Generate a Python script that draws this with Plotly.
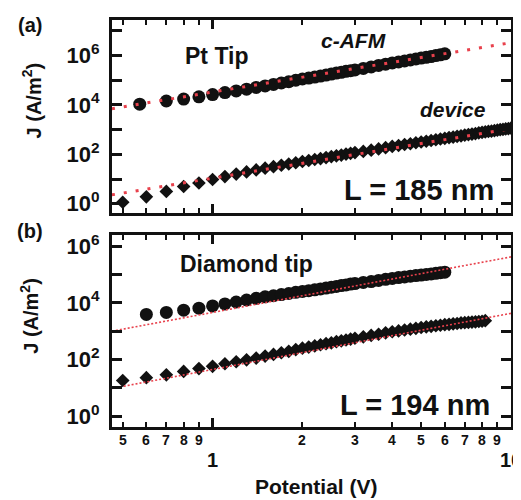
import math
import plotly.graph_objects as go

# ---------------- data ----------------
# Panel (a): Pt tip
v_cafm_a = [0.57, 0.7, 0.8, 0.9, 1.0, 1.1, 1.2, 1.3, 1.4, 1.5, 1.6, 1.7, 1.8, 1.9, 2.0,
            2.1, 2.2, 2.3, 2.4, 2.5, 2.6, 2.7, 2.8, 2.9, 3.0,
            3.2, 3.4, 3.6, 3.8, 4.0, 4.2, 4.4, 4.6, 4.8, 5.0, 5.2, 5.4, 5.6, 5.8, 6.0]
logj_cafm_a = [4.03, 4.16, 4.24, 4.33, 4.42, 4.50, 4.57, 4.64, 4.71, 4.77, 4.83, 4.89, 4.94, 5.00, 5.05,
               5.09, 5.13, 5.17, 5.21, 5.25, 5.29, 5.32, 5.36, 5.39, 5.42,
               5.48, 5.54, 5.60, 5.65, 5.70, 5.74, 5.78, 5.82, 5.86, 5.90, 5.93, 5.96, 6.00, 6.03, 6.07]

v_device_a = [0.5, 0.6, 0.7, 0.8, 0.9, 1.0, 1.1, 1.2, 1.3, 1.4, 1.5, 1.6, 1.7, 1.8, 1.9, 2.0,
              2.1, 2.2, 2.3, 2.4, 2.5, 2.6, 2.7, 2.8, 2.9, 3.0,
              3.2, 3.4, 3.6, 3.8, 4.0, 4.2, 4.4, 4.6, 4.8, 5.0, 5.2, 5.4, 5.6, 5.8, 6.0,
              6.2, 6.4, 6.6, 6.8, 7.0, 7.2, 7.4, 7.6, 7.8, 8.0, 8.2, 8.4, 8.6, 8.8, 9.0,
              9.2, 9.4, 9.6, 9.8, 10.0]
logj_device_a = [0.06, 0.28, 0.50, 0.70, 0.84, 0.98, 1.10, 1.20, 1.29, 1.37, 1.44, 1.50, 1.56, 1.61, 1.66, 1.71,
                 1.75, 1.79, 1.83, 1.87, 1.91, 1.94, 1.97, 2.01, 2.04, 2.07,
                 2.12, 2.17, 2.22, 2.27, 2.32, 2.36, 2.40, 2.43, 2.47, 2.50, 2.53, 2.56, 2.59, 2.62, 2.65,
                 2.68, 2.70, 2.73, 2.75, 2.78, 2.80, 2.82, 2.84, 2.87, 2.89, 2.91, 2.93, 2.94, 2.96, 2.98,
                 3.00, 3.01, 3.03, 3.04, 3.06]

fit_v = [0.46, 10.0]
fit_logj_cafm_a = [3.85, 6.52]
fit_logj_device_a = [0.36, 3.04]

# Panel (b): Diamond tip
v_cafm_b = [0.6, 0.7, 0.8, 0.9, 1.0, 1.1, 1.2, 1.3, 1.4, 1.5, 1.6, 1.7, 1.8, 1.9, 2.0,
            2.1, 2.2, 2.3, 2.4, 2.5, 2.6, 2.7, 2.8, 2.9, 3.0,
            3.2, 3.4, 3.6, 3.8, 4.0, 4.2, 4.4, 4.6, 4.8, 5.0, 5.2, 5.4, 5.6, 5.8, 6.0]
logj_cafm_b = [3.59, 3.66, 3.74, 3.81, 3.89, 3.96, 4.03, 4.10, 4.16, 4.21, 4.25, 4.29, 4.33, 4.37, 4.40,
               4.43, 4.46, 4.49, 4.52, 4.55, 4.58, 4.61, 4.63, 4.66, 4.68,
               4.72, 4.75, 4.79, 4.83, 4.86, 4.89, 4.91, 4.94, 4.96, 4.98, 5.00, 5.02, 5.04, 5.06, 5.08]

v_device_b = [0.5, 0.6, 0.7, 0.8, 0.9, 1.0, 1.1, 1.2, 1.3, 1.4, 1.5, 1.6, 1.7, 1.8, 1.9, 2.0,
              2.1, 2.2, 2.3, 2.4, 2.5, 2.6, 2.7, 2.8, 2.9, 3.0,
              3.2, 3.4, 3.6, 3.8, 4.0, 4.2, 4.4, 4.6, 4.8, 5.0, 5.2, 5.4, 5.6, 5.8, 6.0,
              6.2, 6.4, 6.6, 6.8, 7.0, 7.2, 7.4, 7.6, 7.8, 8.0, 8.2]
logj_device_b = [1.26, 1.36, 1.46, 1.58, 1.68, 1.76, 1.85, 1.92, 1.99, 2.05, 2.12, 2.18, 2.24, 2.29, 2.35, 2.40,
                 2.44, 2.48, 2.52, 2.56, 2.59, 2.63, 2.66, 2.69, 2.72, 2.75,
                 2.80, 2.85, 2.89, 2.94, 2.98, 3.01, 3.04, 3.07, 3.10, 3.13, 3.15, 3.17, 3.19, 3.21, 3.23,
                 3.24, 3.26, 3.27, 3.29, 3.30, 3.31, 3.32, 3.33, 3.34, 3.35, 3.37]

fit_logj_cafm_b = [3.00, 5.62]
fit_logj_device_b = [0.98, 3.63]

x_minor_ticks = [0.5, 0.6, 0.7, 0.8, 0.9, 2, 3, 4, 5, 6, 7, 8, 9]
x_minor_labels = ["5", "6", "7", "8", "9", "2", "3", "4", "5", "6", "7", "8", "9"]
x_major_ticks = [1, 10]
x_major_labels = ["1", "10"]

y_ticks = [1, 1e2, 1e4, 1e6]
y_labels = ["10<sup>0</sup>", "10<sup>2</sup>", "10<sup>4</sup>", "10<sup>6</sup>"]
y_odd_ticks = [10, 1e3, 1e5, 1e7]

# ---------------- layout geometry ----------------
# The page body keeps its default 8px margin, so the figure is drawn 8px in/down.
OFF = 8
W, H = 521 - OFF, 500 - OFF
L, R, T, B = 112 - OFF, 513 - OFF, 15 - OFF, 427 - OFF
PW, PH = R - L, B - T
FONT = "Liberation Sans, Arial, sans-serif"
INK = "#111111"
RED = "#e8414c"


def px(x, y):
    # x, y given in page pixels of the reference picture
    return (x - OFF - L) / PW, (B - (y - OFF)) / PH


def tolin(logs):
    return [10 ** v for v in logs]


fig = go.Figure()

marker_circle = dict(symbol="circle", size=13, color=INK, line=dict(width=0))
marker_diamond = dict(symbol="diamond", size=10.5, color=INK, line=dict(width=0))

# panel (a)
fig.add_trace(go.Scatter(x=v_cafm_a, y=tolin(logj_cafm_a), mode="markers", marker=marker_circle,
                         xaxis="x2", yaxis="y", showlegend=False))
fig.add_trace(go.Scatter(x=v_device_a, y=tolin(logj_device_a), mode="markers", marker=marker_diamond,
                         xaxis="x2", yaxis="y", showlegend=False))
fig.add_trace(go.Scatter(x=fit_v, y=tolin(fit_logj_cafm_a), mode="lines",
                         line=dict(color=RED, width=3, dash="3px,9px"),
                         xaxis="x2", yaxis="y", showlegend=False))
fig.add_trace(go.Scatter(x=fit_v, y=tolin(fit_logj_device_a), mode="lines",
                         line=dict(color=RED, width=3, dash="3px,9px"),
                         xaxis="x2", yaxis="y", showlegend=False))

# panel (b)
fig.add_trace(go.Scatter(x=v_cafm_b, y=tolin(logj_cafm_b), mode="markers", marker=marker_circle,
                         xaxis="x", yaxis="y2", showlegend=False))
fig.add_trace(go.Scatter(x=v_device_b, y=tolin(logj_device_b), mode="markers", marker=marker_diamond,
                         xaxis="x", yaxis="y2", showlegend=False))
fig.add_trace(go.Scatter(x=fit_v, y=tolin(fit_logj_cafm_b), mode="lines",
                         line=dict(color=RED, width=1.6, dash="2px,2px"),
                         xaxis="x", yaxis="y2", showlegend=False))
fig.add_trace(go.Scatter(x=fit_v, y=tolin(fit_logj_device_b), mode="lines",
                         line=dict(color=RED, width=1.6, dash="2px,2px"),
                         xaxis="x", yaxis="y2", showlegend=False))

xrange = [-0.337, 1.0]
common_x = dict(type="log", range=xrange, showgrid=False, zeroline=False,
                showline=True, linewidth=3, linecolor=INK, mirror="ticks",
                ticks="inside", tickvals=x_major_ticks, ticklen=9, tickwidth=2.5, tickcolor=INK,
                showticklabels=False,
                minor=dict(tickvals=x_minor_ticks, ticks="inside", ticklen=5, tickwidth=2, tickcolor=INK))

common_y = dict(type="log", showgrid=False, zeroline=False,
                showline=True, linewidth=3, linecolor=INK, mirror="ticks",
                ticks="inside", ticklen=10, tickwidth=2.5, tickcolor=INK,
                tickvals=y_ticks, ticktext=y_labels,
                tickfont=dict(family=FONT, size=22, color=INK, weight="bold"),
                ticklabelstandoff=5,
                minor=dict(tickvals=y_odd_ticks, ticks="inside", ticklen=10, tickwidth=2.5, tickcolor=INK))

ya_bottom = px(0, 210)[1]
yb_top = px(0, 233)[1]

fig.update_layout(
    width=W, height=H,
    margin=dict(l=L, r=W - R, t=T, b=H - B, pad=0),
    paper_bgcolor="white", plot_bgcolor="white",
    xaxis=dict(common_x, domain=[0, 1], anchor="y2"),
    xaxis2=dict(common_x, domain=[0, 1], anchor="y", matches="x"),
    yaxis=dict(common_y, domain=[ya_bottom, 1], anchor="x2", range=[-0.36, 7.44]),
    yaxis2=dict(common_y, domain=[0, yb_top], anchor="x", range=[-0.38, 6.38]),
)

ann = []


def text(s, x, y, size, italic=False, angle=0):
    xp, yp = px(x, y)
    t = "<b>" + s + "</b>"
    if italic:
        t = "<i>" + t + "</i>"
    ann.append(dict(text=t, x=xp, y=yp, xref="paper", yref="paper", xanchor="center", yanchor="middle",
                    showarrow=False, textangle=angle,
                    font=dict(family=FONT, size=size, color=INK)))


text("(a)", 30, 20, 20)
text("(b)", 30, 229, 20)
text("Pt Tip", 217, 51, 23)
text("c-AFM", 355, 36, 21, italic=True)
text("device", 455, 106, 21, italic=True)
text("L = 185 nm", 421, 187, 29)
text("Diamond tip", 247, 262, 23)
text("L = 194 nm", 417, 405, 29)
text("J (A/m<sup>2</sup>)", 31, 96, 20, angle=-90)
text("J (A/m<sup>2</sup>)", 29, 314, 20, angle=-90)
text("Potential (V)", 318, 487, 21)

# x tick labels positioned on the log axis
for v, s in zip(x_minor_ticks, x_minor_labels):
    ann.append(dict(text="<b>" + s + "</b>", x=math.log10(v), xref="x", y=px(0, 440.5)[1], yref="paper",
                    xanchor="center", yanchor="middle", showarrow=False,
                    font=dict(family=FONT, size=14, color=INK)))
for v, s in zip(x_major_ticks, x_major_labels):
    ann.append(dict(text="<b>" + s + "</b>", x=math.log10(v), xref="x", y=px(0, 460)[1], yref="paper",
                    xanchor="center", yanchor="middle", showarrow=False,
                    font=dict(family=FONT, size=20, color=INK)))

fig.update_layout(annotations=ann)
fig.write_html("out.html")
